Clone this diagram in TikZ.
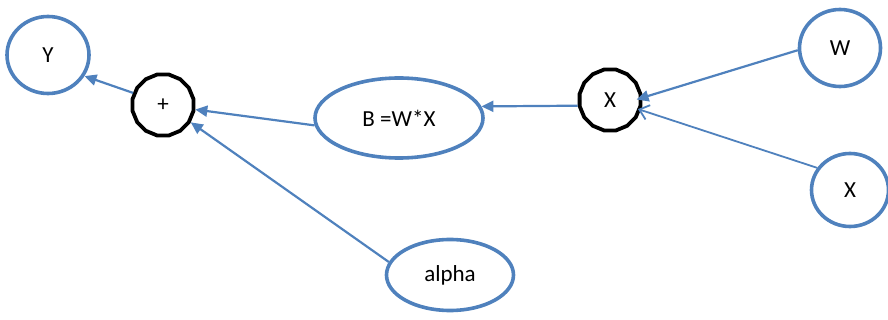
\documentclass[tikz,border=0pt]{standalone}
\usepackage{fontspec}
\setmainfont{Carlito}
\usetikzlibrary{arrows.meta,shapes.geometric}
\definecolor{nodeblue}{RGB}{79,129,189}
\tikzset{
  varnode/.style={ellipse, draw=nodeblue, line width=3.6pt, inner sep=0pt, font=\fontsize{23}{26}\selectfont},
  opnode/.style={regular polygon, regular polygon sides=16, draw=black, line width=3.8pt, inner sep=0pt, minimum size=62pt, font=\fontsize{23}{26}\selectfont},
  flow/.style={draw=nodeblue, line width=2.2pt, -{Triangle[length=12pt,width=11pt]}},
  openflow/.style={draw=nodeblue, line width=1.8pt, -{Straight Barb[length=9pt,width=15pt,line width=1.8pt]}},
}
\begin{document}
\begin{tikzpicture}[x=1pt,y=-1pt]
\useasboundingbox (0,0) rectangle (888,320);
\node[varnode, minimum width=82pt, minimum height=77pt] (Y) at (48,55) {Y};
\node[opnode] (plus) at (163,105) {+};
\node[varnode, minimum width=168pt, minimum height=80pt] (B) at (399,118) {B =W*X};
\node[opnode] (mul) at (610,100) {X};
\node[varnode, minimum width=81pt, minimum height=77pt] (W) at (840,48) {W};
\node[varnode, minimum width=77pt, minimum height=73pt] (X) at (850,190) {X};
\node[varnode, minimum width=127pt, minimum height=71pt] (alpha) at (450,275) {alpha};

\draw[flow] (plus.158) -- (Y.-30);
\draw[flow] (B.185) -- (plus.-8);
\draw[flow] (alpha.168) -- (plus.-32);
\draw[flow] (mul.190) -- (B.8);
\draw[flow, shorten >=-6pt] (W.183) -- (mul.4);
\draw[openflow, shorten >=-3pt] (X.146) -- (mul.-18);
\end{tikzpicture}
\end{document}
